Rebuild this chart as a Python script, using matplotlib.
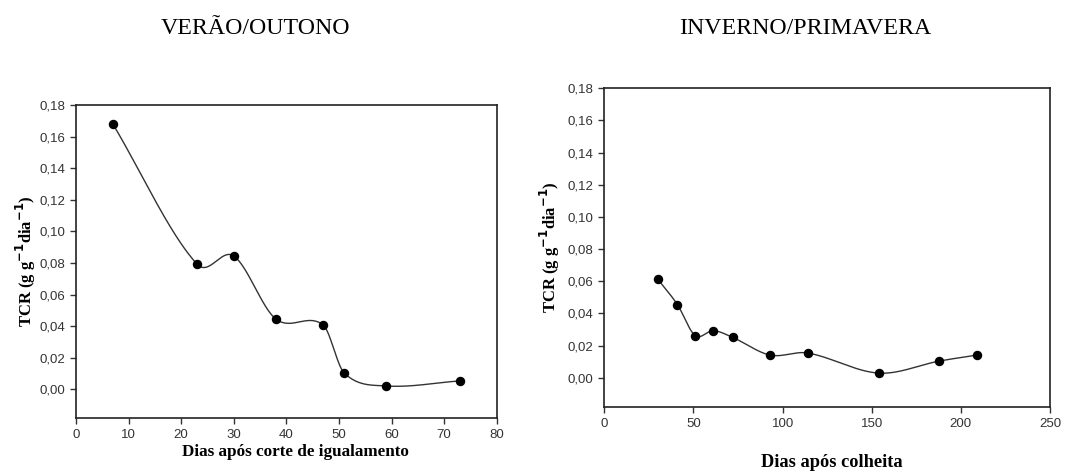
import numpy as np
import matplotlib
matplotlib.use("Agg")
import matplotlib.pyplot as plt
from matplotlib.ticker import FuncFormatter, MultipleLocator

# Taxa de crescimento relativo (TCR) por época
dias_verao = [7, 23, 30, 38, 47, 51, 59, 73]
tcr_verao = [0.168, 0.0793, 0.0844, 0.0445, 0.0407, 0.0103, 0.0021, 0.0053]

dias_inverno = [30, 41, 51, 61, 72, 93, 114, 154, 188, 209]
tcr_inverno = [0.0613, 0.0455, 0.0262, 0.0293, 0.0251, 0.0141, 0.0154, 0.0029, 0.0104, 0.0141]

titulos = ["VERÃO/OUTONO", "INVERNO/PRIMAVERA"]
rotulos_x = ["Dias após corte de igualamento", "Dias após colheita"]
rotulo_y = r"TCR (g g$^{\mathbf{-1}}$dia$^{\mathbf{-1}}$)"


def curva_suave(x, y, n=60):
    """Cubic Hermite curve through the points (Catmull-Rom style tangents)."""
    x = np.asarray(x, float)
    y = np.asarray(y, float)
    k = len(x)
    m = np.empty(k)
    m[0] = (y[1] - y[0]) / (x[1] - x[0])
    m[-1] = (y[-1] - y[-2]) / (x[-1] - x[-2])
    m[1:-1] = (y[2:] - y[:-2]) / (x[2:] - x[:-2])
    xs_all, ys_all = [], []
    for i in range(k - 1):
        h = x[i + 1] - x[i]
        t = np.linspace(0, 1, n)
        h00 = 2 * t ** 3 - 3 * t ** 2 + 1
        h10 = t ** 3 - 2 * t ** 2 + t
        h01 = -2 * t ** 3 + 3 * t ** 2
        h11 = t ** 3 - t ** 2
        xs_all.append(x[i] + t * h)
        ys_all.append(h00 * y[i] + h10 * h * m[i] + h01 * y[i + 1] + h11 * h * m[i + 1])
    return np.concatenate(xs_all), np.concatenate(ys_all)


fig = plt.figure(figsize=(10.75, 4.72), dpi=100)
fig.patch.set_facecolor("white")

serif = ["Liberation Serif", "DejaVu Serif"]
sans = ["Liberation Sans", "DejaVu Sans"]

posicoes = [
    [76 / 1075, 1 - 417.7 / 472, (496.7 - 76) / 1075, (417.7 - 105) / 472],
    [604.3 / 1075, 1 - 406.7 / 472, (1050 - 604.3) / 1075, (406.7 - 88.3) / 472],
]
limites_x = [(0, 80), (0, 250)]
passos_x = [10, 50]
series = [(dias_verao, tcr_verao), (dias_inverno, tcr_inverno)]
tam_x = [12.3, 13.2]
coord_x = [(0.522, -0.111), (0.51, -0.176)]
pad_y = [1, 4]

fmt = FuncFormatter(lambda v, p: f"{v:.2f}".replace(".", ","))
fmt_x = FuncFormatter(lambda v, p: f"{v:.0f}")

for j in range(2):
    ax = fig.add_axes(posicoes[j])
    x, y = series[j]
    xs, ys = curva_suave(x, y)
    ax.plot(xs, ys, color="#333333", lw=1.0, zorder=2)
    ax.plot(x, y, "o", color="black", ms=5.8, zorder=3)

    ax.set_xlim(*limites_x[j])
    ax.set_ylim(-0.018, 0.18)
    ax.xaxis.set_major_locator(MultipleLocator(passos_x[j]))
    ax.set_yticks(np.arange(0, 0.181, 0.02))
    ax.yaxis.set_major_formatter(fmt)
    ax.xaxis.set_major_formatter(fmt_x)

    for s in ax.spines.values():
        s.set_linewidth(1.2)
        s.set_color("#222222")
    ax.tick_params(direction="out", length=4, width=1.0, color="#333333",
                   labelsize=9.5, labelcolor="#333333", pad=4)
    for lab in ax.get_xticklabels() + ax.get_yticklabels():
        lab.set_family(sans)

    ax.set_xlabel(rotulos_x[j], family=serif, fontweight="bold",
                  fontsize=tam_x[j], va="center")
    ax.xaxis.set_label_coords(*coord_x[j])
    ax.set_ylabel(rotulo_y, family=serif, fontweight="bold", fontsize=12,
                  labelpad=pad_y[j])

fig.text(255.5 / 1075, 1 - 33.5 / 472, titulos[0], family=serif, fontsize=17.2,
         ha="center", va="baseline")
fig.text(805.5 / 1075, 1 - 33.5 / 472, titulos[1], family=serif, fontsize=17.2,
         ha="center", va="baseline")

fig.savefig("out.png", dpi=100, facecolor="white")
